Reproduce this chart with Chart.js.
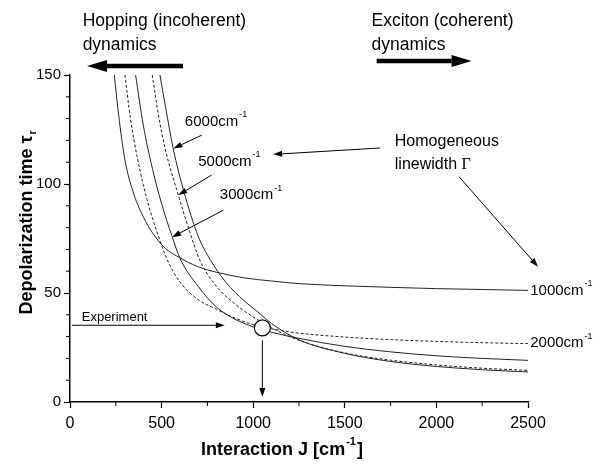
<!DOCTYPE html>
<html>
<head>
<meta charset="utf-8">
<script src="https://cdn.jsdelivr.net/npm/chart.js@4.4.1/dist/chart.umd.min.js"></script>
<style>
  html, body { margin: 0; padding: 0; background: #fff; }
</style>
</head>
<body>
<canvas id="depolChart" width="595" height="466"></canvas>
<script>
// axis ticks
const jTicks = [0, 500, 1000, 1500, 2000, 2500];
const tauTicks = [0, 50, 100, 150];

// depolarization time vs interaction J, one curve per homogeneous linewidth
const gammaLabels = ['1000', '2000', '3000', '5000', '6000'];

const j1000 = [242, 265, 300, 350, 400, 455, 520, 582, 700, 800, 946, 1100, 1250, 1500, 1750, 2000, 2250, 2500];
const tau1000 = [150, 132, 111, 95, 85, 77, 70.5, 67, 62, 59.5, 57, 55.5, 54.3, 53.3, 52.6, 52, 51.6, 51.2];

const j2000 = [300, 330, 370, 420, 475, 527, 600, 700, 800, 900, 1000, 1100, 1250, 1500, 1750, 2000, 2250, 2500];
const tau2000 = [150, 130, 111, 93, 78, 66, 55, 47, 42.5, 38.5, 35.5, 33.6, 31.6, 29.8, 28.6, 27.8, 27.2, 26.8];

const j3000 = [358, 400, 450, 500, 557, 600, 700, 800, 900, 1000, 1100, 1250, 1500, 1750, 2000, 2250, 2500];
const tau3000 = [150, 127, 107, 91, 76, 66, 53, 43.5, 38, 34.5, 32, 29.2, 25.5, 23, 21.2, 20, 19.1];

const j5000 = [449, 480, 520, 591, 650, 709, 800, 900, 1000, 1100, 1250, 1500, 1750, 2000, 2250, 2500];
const tau5000 = [150, 133, 116, 95, 79, 65, 53, 45, 39, 34, 28.3, 22.5, 19.2, 17, 15.5, 14.5];

const j6000 = [491, 520, 564, 620, 700, 764, 850, 950, 1037, 1100, 1250, 1500, 1750, 2000, 2250, 2500];
const tau6000 = [150, 136, 116, 97, 76, 65.5, 55, 46.5, 40.5, 36, 28.5, 22.3, 18.6, 16.3, 14.8, 13.8];

// experimental point
const expJ = 1050;
const expTau = 34;

const curveJ = [j1000, j2000, j3000, j5000, j6000];
const curveTau = [tau1000, tau2000, tau3000, tau5000, tau6000];
const dashed = [false, true, false, true, false];

const FONT = "'Liberation Sans', Arial, Helvetica, sans-serif";

const datasets = curveJ.map((js, i) => ({
  label: gammaLabels[i] + ' cm-1',
  data: js.map((j, k) => ({ x: j, y: curveTau[i][k] })),
  borderColor: '#222',
  borderWidth: 1,
  borderDash: dashed[i] ? [3, 2] : [],
  pointRadius: 0,
  fill: false,
  cubicInterpolationMode: 'monotone'
}));

// annotation placement, in data units (J, tau)
const curveLabels = [
  { text: '6000', j: 627, tau: 128.6 },
  { text: '5000', j: 700, tau: 110.2 },
  { text: '3000', j: 818, tau: 94.9 },
  { text: '1000', j: 2512, tau: tau1000[tau1000.length - 1] },
  { text: '2000', j: 2512, tau: 27 }
];

const thinArrows = [
  [719, 122.4, 564, 116.3],
  [773, 104.1, 591, 94.9],
  [837, 88, 557, 75.6],
  [1691, 116.5, 1109, 113.6],
  [2124, 103.3, 2555, 62],
  [10, 35.2, 845, 35.2],
  [expJ, 28.3, expJ, 2.3]
];

const bigArrows = [
  [617, 154.1, 93, 154.1],
  [1674, 156.4, 2192, 156.4]
];

function drawArrow(ctx, x1, y1, x2, y2, lw, headLen, headW) {
  const ang = Math.atan2(y2 - y1, x2 - x1);
  const bx = x2 - headLen * Math.cos(ang);
  const by = y2 - headLen * Math.sin(ang);
  ctx.lineWidth = lw;
  ctx.beginPath();
  ctx.moveTo(x1, y1);
  ctx.lineTo(bx, by);
  ctx.stroke();
  ctx.beginPath();
  ctx.moveTo(x2, y2);
  ctx.lineTo(bx + headW * Math.sin(ang), by - headW * Math.cos(ang));
  ctx.lineTo(bx - headW * Math.sin(ang), by + headW * Math.cos(ang));
  ctx.closePath();
  ctx.fill();
}

// "NNNNcm" with a raised "-1"
function drawUnit(ctx, base, x, y, size, bold) {
  const w = bold ? 'bold ' : '';
  ctx.font = w + size + 'px ' + FONT;
  ctx.textBaseline = 'middle';
  ctx.textAlign = 'left';
  ctx.fillText(base, x, y);
  const bw = ctx.measureText(base).width;
  ctx.font = w + Math.round(size * 0.6) + 'px ' + FONT;
  ctx.fillText('-1', x + bw + 1, y - size * 0.45);
  return bw + 1 + ctx.measureText('-1').width;
}

const decor = {
  id: 'decor',
  afterDatasetsDraw(chart) {
    const { ctx, scales: { x, y } } = chart;
    ctx.save();
    ctx.strokeStyle = '#000';
    ctx.fillStyle = '#000';

    // minor ticks
    ctx.lineWidth = 1;
    ctx.beginPath();
    for (let v = 250; v < 2500; v += 500) {
      const px = x.getPixelForValue(v);
      ctx.moveTo(px, y.bottom);
      ctx.lineTo(px, y.bottom + 4);
    }
    for (let v = 10; v < 150; v += 10) {
      if (v % 50 === 0) continue;
      const py = y.getPixelForValue(v);
      ctx.moveTo(x.left, py);
      ctx.lineTo(x.left - 4, py);
    }
    ctx.stroke();

    // arrows
    ctx.lineCap = 'butt';
    thinArrows.forEach(a => {
      drawArrow(ctx, x.getPixelForValue(a[0]), y.getPixelForValue(a[1]),
        x.getPixelForValue(a[2]), y.getPixelForValue(a[3]), 1, 9, 3);
    });
    bigArrows.forEach(a => {
      drawArrow(ctx, x.getPixelForValue(a[0]), y.getPixelForValue(a[1]),
        x.getPixelForValue(a[2]), y.getPixelForValue(a[3]), 4.5, 20, 6);
    });

    // experiment circle
    ctx.beginPath();
    ctx.arc(x.getPixelForValue(expJ), y.getPixelForValue(expTau), 8, 0, Math.PI * 2);
    ctx.fillStyle = '#fff';
    ctx.fill();
    ctx.lineWidth = 1.2;
    ctx.stroke();
    ctx.fillStyle = '#000';

    // curve labels
    curveLabels.forEach(l => {
      const lx = x.getPixelForValue(l.j);
      drawUnit(ctx, l.text + 'cm', lx, y.getPixelForValue(l.tau), 15, false);
    });

    ctx.font = '16px ' + FONT;
    ctx.textAlign = 'left';
    ctx.textBaseline = 'middle';
    const hx = x.getPixelForValue(1773);
    ctx.fillText('Homogeneous', hx, y.getPixelForValue(119.4));
    const ly = y.getPixelForValue(108.7);
    ctx.fillText('linewidth ', hx, ly);
    const lw = ctx.measureText('linewidth ').width;
    ctx.font = "16px 'Liberation Serif', 'Times New Roman', serif";
    ctx.fillText('\u0393', hx + lw, ly);

    ctx.font = '13px ' + FONT;
    ctx.fillText('Experiment', x.getPixelForValue(64), y.getPixelForValue(39));

    // regime captions above the plot
    ctx.font = '17.5px ' + FONT;
    ctx.fillText('Hopping (incoherent)', x.getPixelForValue(69), y.getPixelForValue(174.5));
    ctx.fillText('dynamics', x.getPixelForValue(69), y.getPixelForValue(163.8));
    ctx.fillText('Exciton (coherent)', x.getPixelForValue(1646), y.getPixelForValue(174.5));
    ctx.fillText('dynamics', x.getPixelForValue(1646), y.getPixelForValue(163.8));

    // x axis title
    ctx.font = 'bold 18px ' + FONT;
    const t1 = 'Interaction J [cm';
    const w1 = ctx.measureText(t1).width;
    ctx.font = 'bold 11px ' + FONT;
    const wsup = ctx.measureText('-1').width;
    ctx.font = 'bold 18px ' + FONT;
    const wend = ctx.measureText(']').width;
    const total = w1 + wsup + 2 + wend;
    const tx = 282 - total / 2;
    const ty = 450;
    drawUnit(ctx, t1, tx, ty, 18, true);
    ctx.font = 'bold 18px ' + FONT;
    ctx.fillText(']', tx + w1 + wsup + 2, ty);

    // y axis title
    ctx.save();
    ctx.translate(27, 221);
    ctx.rotate(-Math.PI / 2);
    ctx.font = 'bold 18px ' + FONT;
    const ytxt = 'Depolarization time \u03c4';
    const yw = ctx.measureText(ytxt).width;
    ctx.textAlign = 'left';
    ctx.fillText(ytxt, -yw / 2 - 4, 0);
    ctx.font = 'bold 11px ' + FONT;
    ctx.fillText('r', -yw / 2 - 4 + yw + 1, 6);
    ctx.restore();

    ctx.restore();
  }
};

new Chart(document.getElementById('depolChart'), {
  type: 'line',
  data: { datasets },
  options: {
    responsive: false,
    animation: false,
    devicePixelRatio: 1,
    layout: { padding: { left: 0, right: 67, top: 75, bottom: 0 } },
    plugins: { legend: { display: false }, tooltip: { enabled: false } },
    scales: {
      x: {
        type: 'linear',
        min: jTicks[0],
        max: jTicks[jTicks.length - 1],
        afterBuildTicks: s => { s.ticks = jTicks.map(v => ({ value: v })); },
        afterFit: s => { s.height = 64; },
        ticks: { color: '#000', font: { family: FONT, size: 16 }, padding: 6, maxRotation: 0, callback: v => String(v) },
        grid: { drawOnChartArea: false, color: '#000', tickLength: 6, tickWidth: 1.2 },
        border: { color: '#000', width: 1.5 }
      },
      y: {
        type: 'linear',
        min: tauTicks[0],
        max: tauTicks[tauTicks.length - 1],
        afterBuildTicks: s => { s.ticks = tauTicks.map(v => ({ value: v })); },
        afterFit: s => { s.width = 70; },
        ticks: { color: '#000', font: { family: FONT, size: 15 }, padding: 3, callback: v => String(v) },
        grid: { drawOnChartArea: false, color: '#000', tickLength: 6, tickWidth: 1.2 },
        border: { color: '#000', width: 1.5 }
      }
    }
  },
  plugins: [decor]
});
</script>
</body>
</html>
